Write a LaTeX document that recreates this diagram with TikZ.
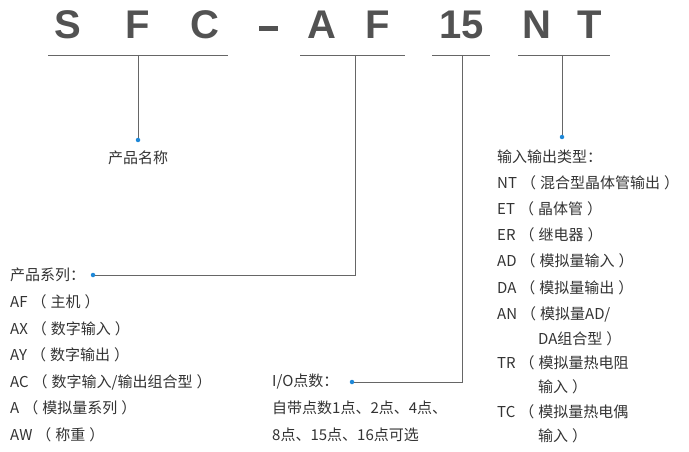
\documentclass[tikz,border=0pt]{standalone}
\usepackage{fontspec}
\setmainfont{Noto Sans CJK SC}
\newfontfamily\titlefont{Liberation Sans}
\definecolor{txt}{HTML}{333333}
\definecolor{ln}{HTML}{666666}
\definecolor{dotc}{HTML}{1E88D8}
\newcommand{\lpar}{\hspace{4pt}（\hspace{4pt}}
\newcommand{\rpar}{\hspace{4pt}）}
\begin{document}
\begin{tikzpicture}[x=1pt,y=-1pt,
  ttl/.style={font=\titlefont\bfseries\fontsize{40}{40}\selectfont,text=ln!80!black,inner sep=0},
  lbl/.style={font=\fontsize{15}{16}\selectfont,text=txt,anchor=west,inner sep=0},
  conn/.style={draw=ln,line width=0.8pt},
  dotp/.style={circle,fill=dotc,minimum size=4.5pt,inner sep=0}]
\useasboundingbox (0,0) rectangle (689,452);
\foreach \c/\x in {S/68,F/138,C/205,A/322,F/378,15/462,N/537,T/590}
  \node[ttl] at (\x,25) {\c};
\fill[ln!80!black] (259,26) rectangle (278,31);
\draw[conn] (48,55) -- (228,55);
\draw[conn] (300,55) -- (405,55);
\draw[conn] (432,55) -- (490,55);
\draw[conn] (518,55) -- (610,55);
\coordinate (t1) at (138,55);
\coordinate (t2) at (355,55);
\coordinate (t3) at (462,55);
\coordinate (t4) at (562,55);
\node[dotp] (d1) at (138,140) {};
\node[dotp] (d2) at (93,275) {};
\node[dotp] (d3) at (352,382) {};
\node[dotp] (d4) at (562,137) {};
\draw[conn] (t1) -- (d1);
\draw[conn] (t2) |- (d2);
\draw[conn] (t3) |- (d3);
\draw[conn] (t4) -- (d4);
\node[lbl,anchor=center] (n1) at (138,158) {产品名称};
\node[lbl] (a0) at (10,275) {产品系列：};
\node[lbl] at (10,302) {AF\lpar 主机\rpar};
\node[lbl] at (10,329) {AX\lpar 数字输入\rpar};
\node[lbl] at (10,355) {AY\lpar 数字输出\rpar};
\node[lbl] at (10,382) {AC\lpar 数字输入/输出组合型\rpar};
\node[lbl] at (10,408) {A\lpar 模拟量系列\rpar};
\node[lbl] at (10,435) {AW\lpar 称重\rpar};
\node[lbl] (b0) at (272,382) {I/O点数：};
\node[lbl] at (272,408) {自带点数1点、2点、4点、};
\node[lbl] at (272,435) {8点、15点、16点可选};
\node[lbl] (c0) at (497,157) {输入输出类型：};
\node[lbl] at (497,183) {NT\lpar 混合型晶体管输出\rpar};
\node[lbl] at (497,209) {ET\lpar 晶体管\rpar};
\node[lbl] at (497,235) {ER\lpar 继电器\rpar};
\node[lbl] at (497,261) {AD\lpar 模拟量输入\rpar};
\node[lbl] at (497,288) {DA\lpar 模拟量输出\rpar};
\node[lbl] at (497,314) {AN\lpar 模拟量AD/};
\node[lbl] at (538,339) {DA组合型\rpar};
\node[lbl] at (497,363) {TR\lpar 模拟量热电阻};
\node[lbl] at (538,387) {输入\rpar};
\node[lbl] at (497,412) {TC\lpar 模拟量热电偶};
\node[lbl] at (538,436) {输入\rpar};
\end{tikzpicture}
\end{document}
